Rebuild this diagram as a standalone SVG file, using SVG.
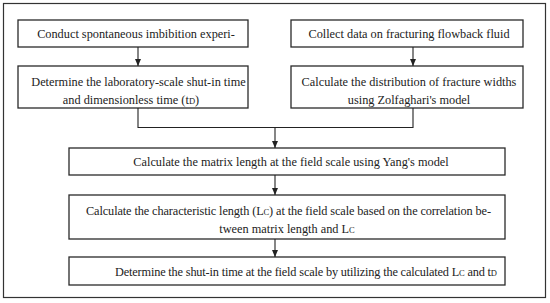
<svg xmlns="http://www.w3.org/2000/svg" width="550" height="303" viewBox="0 0 550 303">
<defs>
<marker id="ah" markerWidth="8" markerHeight="8" refX="7" refY="4" orient="auto" markerUnits="userSpaceOnUse">
<path d="M0,1 L7,4 L0,7 Z" fill="#222"/>
</marker>
<style>
.box{fill:#fff;stroke:#2a2a2a;stroke-width:1.3}
.frame{fill:#fff;stroke:#333;stroke-width:1.2}
text{font-family:"Liberation Serif","DejaVu Serif",serif;font-size:12.3px;fill:#222}
.c{text-anchor:middle}
.sub{font-size:8.5px}
.con{fill:none;stroke:#222;stroke-width:1.1}
</style>
</defs>
<rect class="frame" x="3.5" y="3.5" width="542" height="294"/>
<g id="n1"><rect class="box" x="18" y="20" width="230" height="27"/><text class="c" x="136" y="37.5">Conduct spontaneous imbibition experi-</text></g>
<g id="n2"><rect class="box" x="18" y="66" width="230" height="42"/><text class="c" x="138.5" y="86">Determine the laboratory-scale shut-in time</text><text class="c" x="131" y="104">and dimensionless time (t<tspan class="sub">D</tspan>)</text></g>
<g id="n3"><rect class="box" x="291" y="20" width="232" height="27"/><text class="c" x="409" y="37.5">Collect data on fracturing flowback fluid</text></g>
<g id="n4"><rect class="box" x="291" y="66" width="232" height="42"/><text class="c" x="409" y="86">Calculate the distribution of fracture widths</text><text class="c" x="409" y="104">using Zolfaghari's model</text></g>
<g id="n5"><rect class="box" x="69" y="148" width="436" height="27"/><text class="c" x="291" y="166">Calculate the matrix length at the field scale using Yang's model</text></g>
<g id="n6"><rect class="box" x="69" y="195" width="436" height="44"/><text x="86" y="215" textLength="405" lengthAdjust="spacing">Calculate the characteristic length (L<tspan class="sub">C</tspan>) at the field scale based on the correlation be-</text><text class="c" x="287" y="233">tween matrix length and L<tspan class="sub">C</tspan></text></g>
<g id="n7"><rect class="box" x="69" y="257" width="436" height="28"/><text x="115" y="275.5" textLength="382" lengthAdjust="spacing">Determine the shut-in time at the field scale by utilizing the calculated L<tspan class="sub">C</tspan> and t<tspan class="sub">D</tspan></text></g>
<g id="connectors">
<path class="con" d="M138,47 V66" marker-end="url(#ah)"/>
<path class="con" d="M413,47 V66" marker-end="url(#ah)"/>
<path class="con" d="M138,108 V127.5 H413 V108"/>
<path class="con" d="M275,127.5 V148" marker-end="url(#ah)"/>
<path class="con" d="M275,175 V195" marker-end="url(#ah)"/>
<path class="con" d="M275,239 V257" marker-end="url(#ah)"/>
</g>
</svg>
